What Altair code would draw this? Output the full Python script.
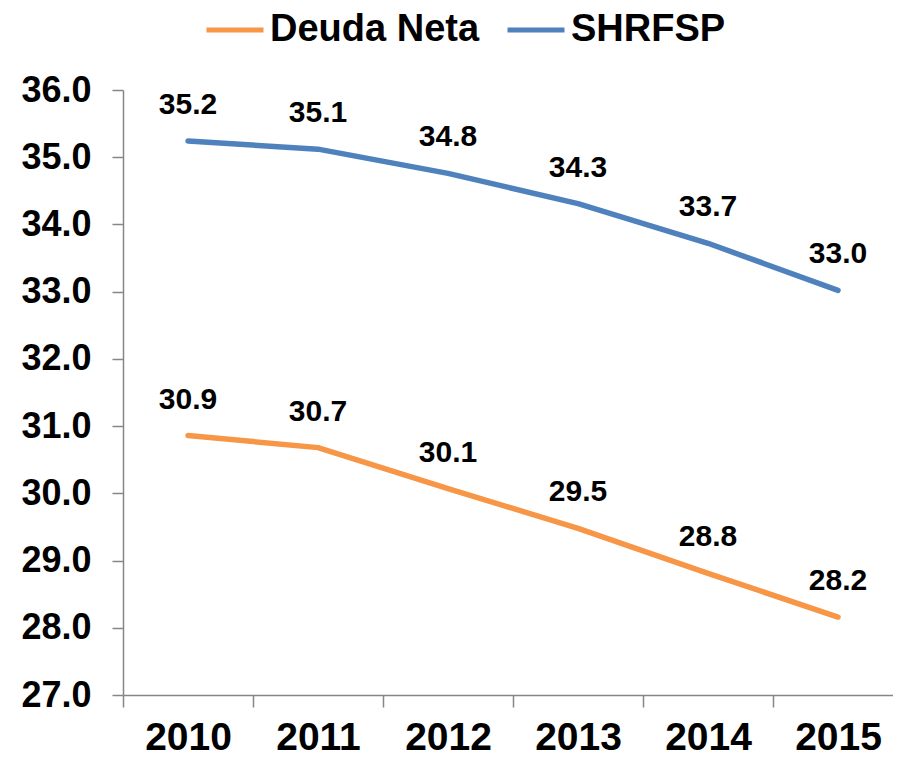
import altair as alt
import pandas as pd

years = ["2010", "2011", "2012", "2013", "2014", "2015"]
series_names = ["Deuda Neta", "SHRFSP"]
deuda_neta = [30.86, 30.68, 30.07, 29.48, 28.81, 28.16]
shrfsp = [35.24, 35.12, 34.76, 34.31, 33.72, 33.02]
y_ticks = [27, 28, 29, 30, 31, 32, 33, 34, 35, 36]
colors = ["#F79646", "#4F81BD"]

rows = []
for name, vals in zip(series_names, [deuda_neta, shrfsp]):
    for yr, v in zip(years, vals):
        rows.append({"year": yr, "series": name, "value": v})
df = pd.DataFrame(rows)

FONT = "Liberation Sans, Arial, sans-serif"

x_enc = alt.X(
    "year:N",
    sort=years,
    bandPosition=0.5,
    scale=alt.Scale(type="band", paddingInner=0, paddingOuter=0),
    axis=alt.Axis(
        title=None, labelAngle=0, tickBand="extent", tickSize=12,
        labelPadding=11, labelFontSize=39, labelFontWeight="bold",
        labelFont=FONT, labelColor="black",
    ),
)
y_enc = alt.Y(
    "value:Q",
    scale=alt.Scale(domain=[27, 36], nice=False, zero=False),
    axis=alt.Axis(
        title=None, values=y_ticks, format=".1f", tickSize=11,
        labelPadding=21, labelFontSize=36, labelFontWeight="bold",
        labelFont=FONT, labelColor="black",
    ),
)

lines = alt.Chart(df).mark_line(
    strokeWidth=5.5, strokeCap="round", strokeJoin="round", interpolate="linear"
).encode(
    x=x_enc,
    y=y_enc,
    color=alt.Color(
        "series:N",
        scale=alt.Scale(domain=series_names, range=colors),
        legend=alt.Legend(
            title=None, orient="none", direction="horizontal",
            legendX=81, legendY=-91,
            symbolType="stroke", symbolSize=3249, symbolStrokeWidth=5,
            labelFontSize=38, labelFont=FONT, labelFontWeight="bold",
            labelColor="black", labelOffset=4, columnPadding=17, labelLimit=0,
        ),
    ),
    detail="series:N",
)

labels = alt.Chart(df).mark_text(
    dy=-36, fontSize=30, fontWeight="bold", font=FONT, color="black"
).encode(
    x=x_enc,
    y=y_enc,
    text=alt.Text("value:Q", format=".1f"),
)

chart = (
    alt.layer(lines, labels)
    .properties(
        width=780,
        height=605,
        autosize=alt.AutoSizeParams(type="none"),
        padding={"left": 115, "top": 82, "right": -10, "bottom": 66},
    )
    .configure_view(stroke=None)
    .configure_axis(
        grid=False, domainColor="#868686", tickColor="#868686",
        domainWidth=1.5, tickWidth=1.5,
    )
)

chart.save("out.html", embed_options={"renderer": "svg", "actions": False})
